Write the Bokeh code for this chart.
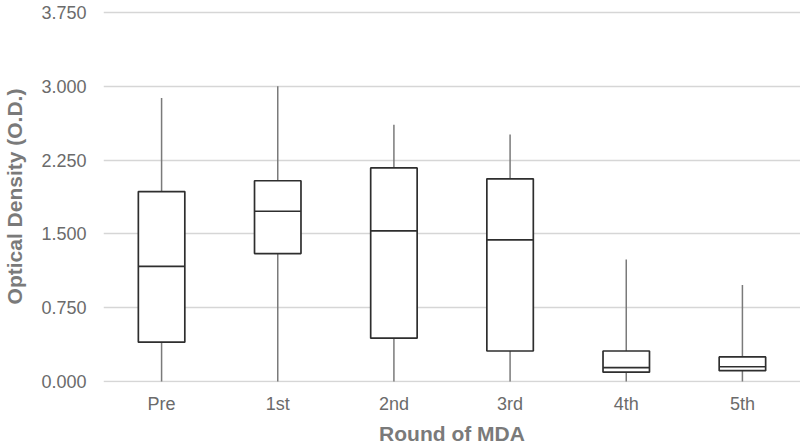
from bokeh.plotting import figure
from bokeh.models import FactorRange, Range1d, FixedTicker, NumeralTickFormatter, ColumnDataSource
from bokeh.embed import file_html
from bokeh.resources import INLINE

rounds = ["Pre", "1st", "2nd", "3rd", "4th", "5th"]
lower = [0.0, 0.0, 0.0, 0.0, 0.0, 0.0]
q1 = [0.40, 1.30, 0.44, 0.31, 0.095, 0.11]
median = [1.17, 1.73, 1.53, 1.44, 0.14, 0.15]
q3 = [1.93, 2.04, 2.17, 2.06, 0.31, 0.25]
upper = [2.88, 3.0, 2.61, 2.51, 1.24, 0.98]
y_ticks = [0.0, 0.75, 1.5, 2.25, 3.0, 3.75]

src = ColumnDataSource(dict(r=rounds, lo=lower, q1=q1, med=median, q3=q3, hi=upper,
                            ml=[(c, -0.2) for c in rounds], mr=[(c, 0.2) for c in rounds]))

p = figure(width=800, height=447, output_backend="svg", toolbar_location=None,
           x_range=FactorRange(factors=rounds), y_range=Range1d(-0.0102, 3.7703),
           min_border_left=102, min_border_right=0, min_border_top=10, min_border_bottom=63)

p.segment(x0="r", y0="lo", x1="r", y1="q1", source=src, line_color="#7a7a7a", line_width=1.5)
p.segment(x0="r", y0="q3", x1="r", y1="hi", source=src, line_color="#7a7a7a", line_width=1.5)
p.vbar(x="r", bottom="q1", top="q3", width=0.4, source=src,
       fill_color="white", line_color="#2e2e2e", line_width=1.7)
p.segment(x0="ml", y0="med", x1="mr", y1="med", source=src, line_color="#2e2e2e", line_width=1.7)

p.outline_line_color = None
p.xgrid.grid_line_color = None
p.ygrid.grid_line_color = "#d6d6d6"
p.ygrid.grid_line_width = 1.5

p.yaxis.ticker = FixedTicker(ticks=y_ticks)
p.yaxis.formatter = NumeralTickFormatter(format="0.000")

for ax in (p.xaxis[0], p.yaxis[0]):
    ax.axis_line_color = None
    ax.major_tick_line_color = None
    ax.minor_tick_line_color = None
    ax.major_tick_out = 0
    ax.major_tick_in = 0
    ax.major_label_text_font = "Liberation Sans"
    ax.major_label_text_font_size = "18px"
    ax.major_label_text_color = "#6b6b6b"
    ax.axis_label_text_font = "Liberation Sans"
    ax.axis_label_text_font_style = "bold"
    ax.axis_label_text_font_size = "21px"
    ax.axis_label_text_color = "#7a7a7a"

p.xaxis.axis_label = "Round of MDA"
p.yaxis.axis_label = "Optical Density (O.D.)"
p.xaxis.major_label_standoff = 11
p.xaxis.axis_label_standoff = 5
p.yaxis.major_label_standoff = 17
p.yaxis.axis_label_standoff = 12

open("out.html", "w").write(file_html(p, INLINE))
